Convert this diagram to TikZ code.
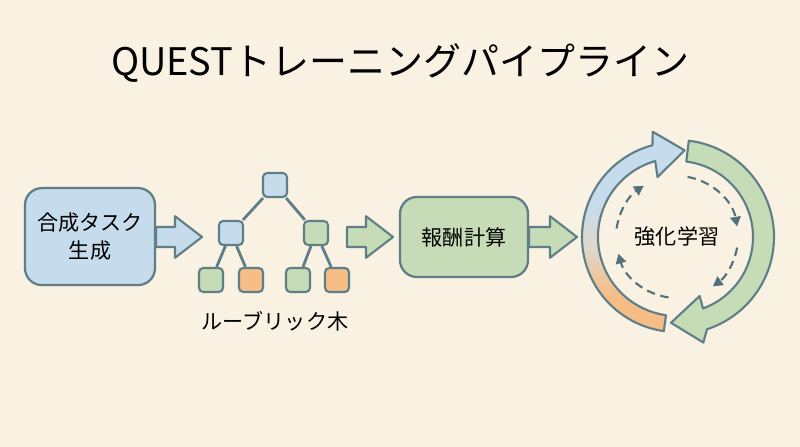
\documentclass[tikz,border=0pt]{standalone}
\usepackage{fontspec}
\setmainfont{Noto Sans CJK JP}
\usepackage{tikz}
\usetikzlibrary{arrows.meta, calc, backgrounds}
\definecolor{bgcream}{HTML}{F9F1E1}
\definecolor{qblue}{HTML}{C6DCEC}
\definecolor{qgreen}{HTML}{C6DCB6}
\definecolor{qorange}{HTML}{F6BD86}
\definecolor{qbeige}{HTML}{DED8CB}
\definecolor{qline}{HTML}{5E7F88}
\definecolor{qdash}{HTML}{52717E}
\pgfdeclareverticalshading{ringfade}{100bp}{color(0bp)=(qorange); color(34bp)=(qorange);
  color(46bp)=(qbeige); color(57bp)=(qblue); color(100bp)=(qblue)}
\tikzset{
  stagebox/.style={draw=qline,line width=1.6pt,rounded corners=12pt,align=center,
    font=\fontsize{15}{20}\selectfont},
  leafnode/.style={draw=qline,line width=1.5pt,rounded corners=3pt,minimum size=6mm,inner sep=0pt},
  treeedge/.style={draw=qline,line width=2pt},
  fatarr/.style={draw=qline,line width=1.5pt,line join=round},
  ringarr/.style={draw=qline,line width=1.5pt,line join=round},
  loopedge/.style={qdash,line width=1.5pt,dash pattern=on 6pt off 4pt,
    -{Triangle[length=2.4mm,width=2.6mm]}},
}
% block arrow: shaft from #1 to tip #2, filled with #3
\newcommand{\fatarrow}[3]{%
  \draw[fatarr,fill=#3] let \p1=(#1), \p2=(#2) in
    (\x1,\y2+0.25cm) -- (\x2-0.675cm,\y2+0.25cm) -- (\x2-0.675cm,\y2+0.52cm)
    -- (\x2,\y2) -- (\x2-0.675cm,\y2-0.52cm) -- (\x2-0.675cm,\y2-0.25cm)
    -- (\x1,\y2-0.25cm) -- cycle;}

\begin{document}
\begin{tikzpicture}
  \useasboundingbox (0,0) rectangle (20,11.175);
  \node[font=\fontsize{27}{32}\selectfont] (title) at (10,9.6) {QUESTトレーニングパイプライン};

  % ---- stage 1: task synthesis ----
  \node[stagebox,fill=qblue,minimum width=3.25cm,minimum height=2.425cm] (task) at (2.25,5.26) {合成タスク\\生成};

  % ---- stage 2: rubric tree ----
  \node[leafnode,fill=qblue] (root) at (6.875,6.55) {};
  \node[leafnode,fill=qblue] (midL) at (5.775,5.35) {};
  \node[leafnode,fill=qgreen] (midR) at (7.9,5.35) {};
  \node[leafnode,fill=qgreen] (LL) at (5.275,4.175) {};
  \node[leafnode,fill=qorange] (LR) at (6.275,4.175) {};
  \node[leafnode,fill=qgreen] (RL) at (7.45,4.175) {};
  \node[leafnode,fill=qorange] (RR) at (8.425,4.175) {};
  \draw[treeedge] (root) -- (midL); \draw[treeedge] (root) -- (midR);
  \draw[treeedge] (midL) -- (LL); \draw[treeedge] (midL) -- (LR);
  \draw[treeedge] (midR) -- (RL); \draw[treeedge] (midR) -- (RR);
  \node[font=\fontsize{15}{18}\selectfont] (treelbl) at (6.875,3.15) {ルーブリック木};

  % ---- stage 3: reward ----
  \node[stagebox,fill=qgreen,minimum width=3.2cm,minimum height=2cm] (reward) at (11.6,5.25) {報酬計算};

  % ---- block arrows between stages ----
  \coordinate (tip1) at (5.05,5.25);
  \coordinate (tail2) at (8.675,5.25);
  \coordinate (tip2) at (9.825,5.25);
  \coordinate (tip3) at (14.425,5.25);
  \begin{scope}[on background layer]
    \fill[bgcream] (0,0) rectangle (20,11.175);
    \fatarrow{task.east}{tip1}{qblue}
    \fatarrow{reward.east}{tip3}{qgreen}
  \end{scope}
  \fatarrow{tail2}{tip2}{qgreen}

  % ---- stage 4: RL loop ----
  \coordinate (cyc) at (16.925,5.25);
  \node[font=\fontsize{15}{18}\selectfont] (rl) at (cyc) {強化学習};
  \begin{scope}[shift={(cyc)}]
    % left ring arrow, blue fading to orange
    \path[ringarr,shading=ringfade]
      (262:2.375) arc[start angle=262,end angle=105,radius=2.375]
      -- (103:2.7) -- (85:2.175) -- (108:1.575) -- (106:1.975)
      arc[start angle=106,end angle=262,radius=1.975] -- cycle;
    % right ring arrow
    \draw[ringarr,fill=qgreen]
      (83:2.425) arc[start angle=83,end angle=-72,radius=2.425]
      -- (-76:2.72) -- (-94:2.15) -- (-69:1.58) -- (-70:1.9)
      arc[start angle=-70,end angle=83,radius=1.9] -- cycle;
    % inner dashed loop
    \draw[loopedge] (172:1.525) arc[start angle=172,end angle=123,radius=1.525];
    \draw[loopedge] (80:1.525) arc[start angle=80,end angle=10,radius=1.525];
    \draw[loopedge] (-10:1.525) arc[start angle=-10,end angle=-54,radius=1.525];
    \draw[loopedge] (-98:1.525) arc[start angle=-98,end angle=-164,radius=1.525];
  \end{scope}
\end{tikzpicture}
\end{document}
